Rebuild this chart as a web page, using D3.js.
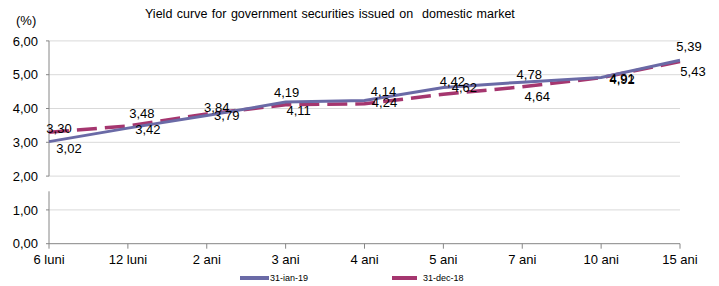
<!DOCTYPE html>
<html>
<head>
<meta charset="utf-8">
<script src="https://cdn.jsdelivr.net/npm/d3@7"></script>
<style>
  html, body { margin: 0; padding: 0; background: #fff; }
  svg { display: block; font-family: "Liberation Sans", Arial, sans-serif; }
  text { white-space: pre; }
</style>
</head>
<body>
<svg id="chart" width="719" height="286"></svg>
<script>
// ---- data ----
const categories = ["6 luni", "12 luni", "2 ani", "3 ani", "4 ani", "5 ani", "7 ani", "10 ani", "15 ani"];
const seriesJan19 = [3.02, 3.42, 3.79, 4.19, 4.24, 4.62, 4.78, 4.92, 5.43]; // 31-ian-19
const seriesDec18 = [3.30, 3.48, 3.84, 4.11, 4.14, 4.42, 4.64, 4.91, 5.39]; // 31-dec-18
const yTicks = [0, 1, 2, 3, 4, 5, 6];
const seriesNames = ["31-ian-19", "31-dec-18"];
const titleText = "Yield curve for government securities issued on  domestic market";
const unitText = "(%)";
const axisBreak = [1.55, 2.0];

// label offsets (style: where each data label sits relative to its point)
const labelOffJan = [[20, 7], [20, 1], [20, 0], [1, -10], [20, 2], [21, 0], [7, -8], [21, 1.5], [13, 11.5]];
const labelOffDec = [[10, -4], [14, -13], [10, -7], [13, 6], [19, -12], [9, -13], [15, 9], [21, 1], [9, -15]];

const fmt = v => d3.format(".2f")(v).replace(".", ",");

const svg = d3.select("#chart");
const x = d3.scalePoint().domain(categories).range([49, 680]);
const y = d3.scaleLinear().domain([0, 6]).range([243.7, 40.9]);

// gridlines
svg.append("g").selectAll("line").data(yTicks.filter(t => t > 0)).join("line")
  .attr("x1", 49).attr("x2", 680)
  .attr("y1", d => y(d)).attr("y2", d => y(d))
  .attr("stroke", "#d9d9d9").attr("stroke-width", 1);

// y axis line with break
const axisColor = "#868686";
svg.append("line").attr("x1", 49).attr("x2", 49).attr("y1", y(6)).attr("y2", y(axisBreak[1]))
  .attr("stroke", axisColor).attr("stroke-width", 1);
svg.append("line").attr("x1", 49).attr("x2", 49).attr("y1", y(axisBreak[0])).attr("y2", y(0))
  .attr("stroke", axisColor).attr("stroke-width", 1);
svg.append("g").selectAll("line").data(yTicks).join("line")
  .attr("x1", 46).attr("x2", 49).attr("y1", d => y(d)).attr("y2", d => y(d))
  .attr("stroke", axisColor);
svg.append("g").selectAll("text").data(yTicks).join("text")
  .attr("x", 38).attr("y", d => y(d)).attr("dy", "0.36em")
  .attr("text-anchor", "end").attr("font-size", 13).attr("fill", "#000")
  .text(d => fmt(d));

// x axis
svg.append("line").attr("x1", 49).attr("x2", 680).attr("y1", y(0)).attr("y2", y(0))
  .attr("stroke", axisColor).attr("stroke-width", 1);
svg.append("g").selectAll("line").data(categories).join("line")
  .attr("x1", d => x(d)).attr("x2", d => x(d)).attr("y1", y(0)).attr("y2", y(0) + 5)
  .attr("stroke", axisColor);
svg.append("g").selectAll("text").data(categories).join("text")
  .attr("x", d => x(d)).attr("y", 264)
  .attr("text-anchor", "middle").attr("font-size", 13).attr("fill", "#000")
  .text(d => d);

// lines
const line = d3.line().x((d, i) => x(categories[i])).y(d => y(d));
const colJan = "#6a6aa6";
const colDec = "#a5366f";
svg.append("path").datum(seriesDec18).attr("d", line)
  .attr("fill", "none").attr("stroke", colDec).attr("stroke-width", 3.5)
  .attr("stroke-dasharray", "20,8");
svg.append("path").datum(seriesJan19).attr("d", line)
  .attr("fill", "none").attr("stroke", colJan).attr("stroke-width", 3);

// data labels
function labels(data, offs) {
  svg.append("g").selectAll("text").data(data).join("text")
    .attr("x", (d, i) => x(categories[i]) + offs[i][0])
    .attr("y", (d, i) => y(d) + offs[i][1])
    .attr("dy", "0.36em").attr("text-anchor", "middle")
    .attr("font-size", 13).attr("fill", "#000")
    .text(d => fmt(d));
}
labels(seriesDec18, labelOffDec);
labels(seriesJan19, labelOffJan);

// title and unit
svg.append("text").attr("x", 145).attr("y", 18).attr("font-size", 12.5)
  .attr("word-spacing", 1).attr("fill", "#000")
  .text(titleText);
svg.append("text").attr("x", 16).attr("y", 25).attr("font-size", 13).attr("fill", "#000")
  .text(unitText);

// legend
const legend = [
  { name: seriesNames[0], color: colJan, x1: 240, x2: 269 },
  { name: seriesNames[1], color: colDec, x1: 392, x2: 417 }
];
const lg = svg.append("g");
lg.selectAll("line").data(legend).join("line")
  .attr("x1", d => d.x1).attr("x2", d => d.x2).attr("y1", 278).attr("y2", 278)
  .attr("stroke", d => d.color).attr("stroke-width", 4);
lg.selectAll("text").data(legend).join("text")
  .attr("x", (d, i) => i === 0 ? d.x2 + 1 : d.x2 + 6).attr("y", 278).attr("dy", "0.36em")
  .attr("font-size", 9).attr("fill", "#000")
  .text(d => d.name);
</script>
</body>
</html>
